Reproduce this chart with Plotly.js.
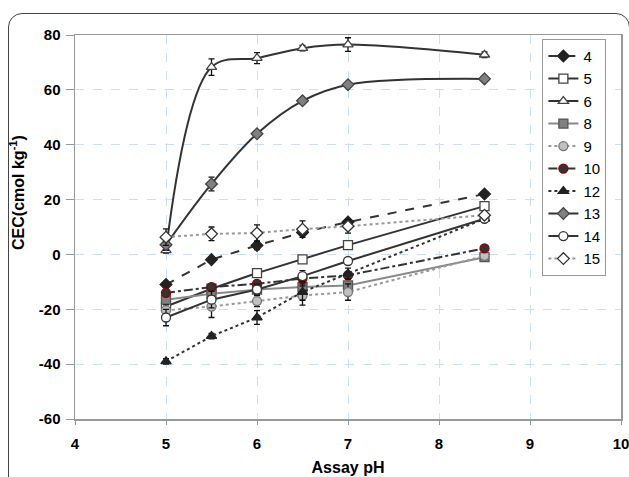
<!DOCTYPE html>
<html><head><meta charset="utf-8">
<script src="https://cdn.plot.ly/plotly-3.0.1.min.js"></script>
<style>
html,body{margin:0;padding:0;background:#fff;overflow:hidden;}
#frame{position:absolute;left:8px;top:13px;width:620px;height:600px;border:1.3px solid #444;border-radius:14px;}
#chart{position:absolute;left:0;top:0;width:629px;height:477px;}
</style></head>
<body>
<div id="frame"></div>
<div id="chart"></div>
<script>
const pH = [5, 5.5, 6, 6.5, 7, 8.5];
const s4  = [-11, -1.9, 3.3, 8, 11.8, 22];
const s5  = [-19, -12.5, -6.8, -1.8, 3.4, 17.6];
const s6  = [1.5, 68.3, 71.6, 75.2, 76.5, 72.8];
const s8  = [-16.5, -14.3, -12.8, -11.9, -11.3, -1];
const s9  = [-20.4, -19, -17, -15, -13.7, -0.5];
const s10 = [-14, -11.9, -10.7, -8.8, -7.6, 2.2];
const s12 = [-39, -29.8, -23, -13.7, -7, 13];
const s13 = [3.5, 25.7, 44, 56, 61.9, 64];
const s14 = [-23, -16.5, -12.8, -7.9, -2.4, 13];
const s15 = [6.3, 7.5, 7.8, 9.2, 10.3, 14.3];

const e4  = [1, 1, 1.5, 1, 1, 0.5];
const e5  = [1, 1, 1, 1, 1, 0.5];
const e6  = [1, 3, 2, 1, 2.5, 1];
const e8  = [1, 1, 1, 1, 1, 0.5];
const e9  = [2, 4, 2, 3.5, 3, 1];
const e10 = [1, 1, 1, 1, 1, 0.5];
const e12 = [1, 1, 2.5, 3, 2, 1];
const e13 = [2, 2.5, 1, 1, 1, 0.5];
const e14 = [3, 3, 2, 2, 1, 1];
const e15 = [3, 2.5, 3, 3, 2.5, 1];

const names = ['4','5','6','8','9','10','12','13','14','15'];

const xTickVals = [4, 5, 6, 7, 8, 9, 10];
const xTickText = ['4', '5', '6', '7', '8', '9', '10'];
const yTickVals = [-60, -40, -20, 0, 20, 40, 60, 80];
const yTickText = ['-60', '-40', '-20', '0', '20', '40', '60', '80'];

function tr(name, y, err, lineColor, dash, shape, sym, fill, outline){
  return {
    x: pH, y: y, name: name, type: 'scatter', mode: 'lines+markers',
    line: {color: lineColor, width: 2, dash: dash, shape: shape, smoothing: 1},
    marker: {symbol: sym, size: 9, color: fill, line: {color: outline, width: 1.3}},
    error_y: {type: 'data', array: err, visible: true, color: '#111', thickness: 1.3, width: 3}
  };
}

const data = [
  tr(names[0], s4, e4, '#333', 'dash', 'linear', 'diamond', '#222', '#222'),
  tr(names[1], s5, e5, '#333', 'solid', 'linear', 'square', '#fff', '#444'),
  tr(names[2], s6, e6, '#333', 'solid', 'spline', 'triangle-up', '#fff', '#444'),
  tr(names[3], s8, e8, '#8a8a8a', 'solid', 'linear', 'square', '#808080', '#555'),
  tr(names[4], s9, e9, '#999', 'dot', 'linear', 'circle', '#c0c0c0', '#777'),
  tr(names[5], s10, e10, '#333', 'dashdot', 'linear', 'circle', '#333', '#8b0000'),
  tr(names[6], s12, e12, '#333', 'dot', 'linear', 'triangle-up', '#222', '#222'),
  tr(names[7], s13, e13, '#333', 'solid', 'spline', 'diamond', '#808080', '#444'),
  tr(names[8], s14, e14, '#333', 'solid', 'linear', 'circle', '#fff', '#333'),
  tr(names[9], s15, e15, '#999', 'dot', 'linear', 'diamond', '#fff', '#333')
];

const fam = 'Liberation Sans, Arial, sans-serif';
const tickFont = {family: fam, size: 15, color: '#000', weight: 'bold'};
const titleFont = {family: fam, size: 16, color: '#000', weight: 'bold'};

const layout = {
  width: 629, height: 477,
  margin: {l: 75, r: 8, t: 35, b: 58},
  paper_bgcolor: 'rgba(0,0,0,0)',
  plot_bgcolor: '#fff',
  font: {family: fam, size: 15, color: '#000'},
  showlegend: true,
  legend: {
    x: 0.856, y: 0.99, xanchor: 'left', yanchor: 'top',
    bgcolor: '#fff', bordercolor: '#999', borderwidth: 1,
    font: {family: fam, size: 15, color: '#000', weight: 'normal'},
    tracegroupgap: 0, itemwidth: 30
  },
  xaxis: {
    range: [4, 10], tickvals: xTickVals, ticktext: xTickText,
    showgrid: true, gridcolor: '#c8e0f8', griddash: 'dash', gridwidth: 1,
    zeroline: false, showline: true, linecolor: '#999', linewidth: 1.5, mirror: true,
    ticks: 'outside', ticklen: 4, tickcolor: '#999', ticklabelstandoff: 6,
    ticklabeloverflow: 'allow',
    tickfont: tickFont,
    title: {text: 'Assay pH', font: titleFont, standoff: 11}
  },
  yaxis: {
    range: [-60, 80], tickvals: yTickVals, ticktext: yTickText,
    showgrid: true, gridcolor: '#c8e0f8', griddash: 'dash', gridwidth: 1,
    zeroline: false, showline: true, linecolor: '#999', linewidth: 1.5, mirror: true,
    ticks: 'outside', ticklen: 8, tickcolor: '#999', ticklabelstandoff: 2,
    tickfont: tickFont
  },
  annotations: [{
    text: 'CEC(cmol kg<sup>-1</sup>)', textangle: -90,
    xref: 'paper', yref: 'paper', x: -0.106, y: 0.589,
    xanchor: 'center', yanchor: 'middle', showarrow: false,
    font: titleFont
  }]
};

Plotly.newPlot('chart', data, layout, {displayModeBar: false, staticPlot: true});
</script>
</body></html>
